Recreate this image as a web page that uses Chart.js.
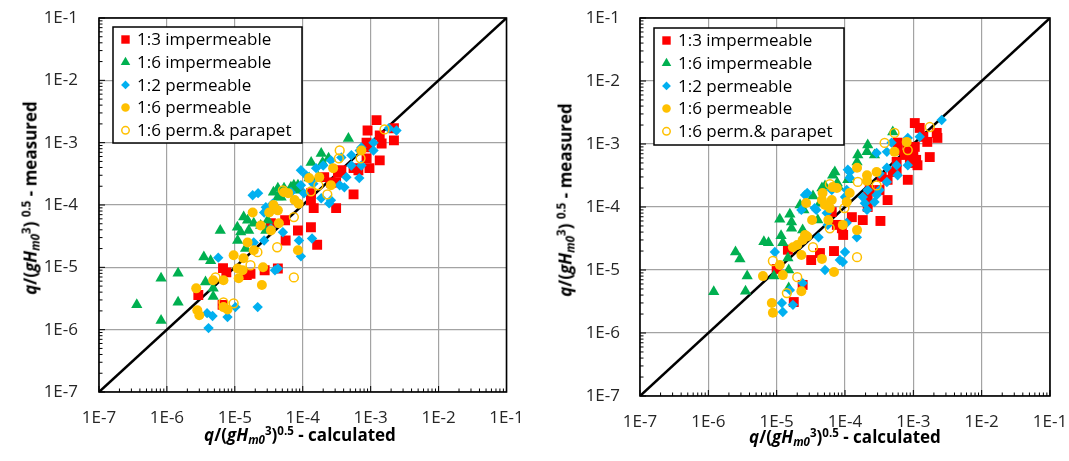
<!DOCTYPE html>
<html>
<head>
<meta charset="utf-8">
<script src="https://cdn.jsdelivr.net/npm/chart.js@4/dist/chart.umd.min.js"></script>
<style>
  html, body { margin: 0; padding: 0; background: #fff; }
  #page { position: relative; width: 1069px; height: 461px; overflow: hidden; font-family: "Open Sans", sans-serif; }
  .panel { position: absolute; top: 0; height: 461px; }
  .axis-title { position: absolute; font-weight: bold; font-size: 17px; line-height: 1; color: #000; white-space: nowrap; }
  .axis-title sup, .axis-title sub { font-size: 0.68em; vertical-align: baseline; position: relative; }
  .axis-title sup { top: -0.55em; }
  .axis-title sub { top: 0.3em; }
  .y-title { transform: translate(-50%, -50%) rotate(-90deg); }
  .x-title { transform: translateX(-50%); }
</style>
</head>
<body>
<div id="page">
  <div class="panel" style="left:0;width:530px"><canvas id="chartLeft"></canvas></div>
  <div class="panel" style="left:535px;width:534px"><canvas id="chartRight"></canvas></div>

  <div class="axis-title y-title" style="left:30px;top:198px"><i>q</i>/(<i>gH</i><sub><i>m0</i></sub><sup>3</sup>) <sup>0.5</sup> - measured</div>
  <div class="axis-title x-title" style="left:300px;top:426px"><i>q</i>/(<i>gH</i><sub><i>m0</i></sub><sup>3</sup>)<sup>0.5</sup> - calculated</div>
  <div class="axis-title y-title" style="left:565px;top:200px"><i>q</i>/(<i>gH</i><sub><i>m0</i></sub><sup>3</sup>) <sup>0.5</sup> - measured</div>
  <div class="axis-title x-title" style="left:845px;top:428px"><i>q</i>/(<i>gH</i><sub><i>m0</i></sub><sup>3</sup>)<sup>0.5</sup> - calculated</div>
</div>

<script>
const decadeValues = [1e-7, 1e-6, 1e-5, 1e-4, 1e-3, 1e-2, 1e-1];
const decadeLabels = ['1E-7', '1E-6', '1E-5', '1E-4', '1E-3', '1E-2', '1E-1'];
const minorSteps = [2, 3, 4, 5, 6, 7, 8, 9];
const parityLine = [1e-7, 1e-1];

const seriesNames = ['1:3 impermeable', '1:6 impermeable', '1:2 permeable', '1:6 permeable', '1:6 perm.& parapet'];

// [calculated, measured] pairs, left panel
const leftImp13 = [
  [2.9e-6, 3.6e-6], [6.6e-6, 2.5e-6], [6.7e-6, 9.7e-6], [7.5e-6, 8.3e-6], [1.5e-5, 7.5e-6],
  [2.75e-5, 9.0e-6], [4.3e-5, 9.6e-6], [8.5e-5, 3.9e-5], [1.32e-4, 4.4e-5], [1.63e-4, 2.3e-5],
  [5.6e-5, 2.7e-5], [5.5e-5, 5.7e-5], [3.4e-5, 5.1e-5], [1.32e-4, 1.19e-4], [1.45e-4, 8.9e-5],
  [3.1e-4, 8.9e-5], [5.6e-4, 1.48e-4], [1.22e-3, 2.3e-3], [9.0e-4, 1.57e-3], [1.36e-3, 1.31e-3],
  [2.2e-3, 1.7e-3], [2.2e-3, 1.09e-3], [1.45e-3, 9.7e-4], [9.2e-4, 8.4e-4], [8.7e-4, 5.6e-4],
  [1.36e-3, 5.2e-4], [9.6e-4, 3.9e-4], [6.6e-4, 3.6e-4], [3.7e-4, 3.6e-4], [3.1e-4, 2.3e-4],
  [3.3e-4, 3.3e-4], [1.32e-4, 1.54e-4], [2.07e-4, 2.8e-4], [2.6e-4, 2.3e-4], [5.6e-4, 3.9e-4],
  [8.7e-5, 1.9e-4], [1.7e-5, 7.9e-6], [8.7e-4, 1.0e-3]
];
const leftImp16 = [
  [3.6e-7, 2.5e-6], [8.2e-7, 1.4e-6], [8.2e-7, 6.7e-6], [1.46e-6, 8.0e-6], [1.46e-6, 2.75e-6],
  [3.5e-6, 1.47e-5], [4.4e-6, 1.27e-5], [3.7e-6, 5.8e-6], [4.8e-6, 3.4e-6], [4.8e-6, 4.6e-6],
  [6.1e-6, 3.9e-5], [1.09e-5, 4.4e-5], [1.22e-5, 3.7e-5], [1.1e-5, 2.7e-5], [1.54e-5, 5.7e-5],
  [1.6e-5, 3.9e-5], [1.44e-5, 2.0e-5], [2.86e-5, 3.9e-5], [3.05e-5, 5.7e-5], [3.6e-5, 8.2e-5],
  [4.0e-5, 9.3e-5], [4.3e-5, 1.34e-4], [3.7e-5, 1.6e-4], [7.4e-5, 2.07e-4], [4.3e-5, 1.85e-4],
  [5.3e-5, 1.85e-4], [8.5e-5, 2.07e-4], [8.7e-5, 1.72e-4], [4.8e-5, 1.33e-4], [1.35e-5, 6.4e-5],
  [1.9e-5, 5.1e-5], [2.4e-5, 4.7e-5], [1.33e-4, 4.8e-4], [1.87e-4, 6.7e-4], [1.96e-4, 4.8e-4],
  [2.4e-4, 5.6e-4], [4.7e-4, 1.17e-3], [1.24e-4, 2.7e-4], [1.7e-4, 2.8e-4], [6.7e-5, 1.92e-4]
];
const leftPerm12 = [
  [3.9e-6, 1.84e-6], [4.7e-6, 1.66e-6], [4.1e-6, 1.06e-6], [7.8e-6, 1.59e-6], [1.02e-5, 2.3e-6],
  [2.17e-5, 2.3e-6], [4.3e-5, 9.6e-6], [3.9e-5, 9.0e-6], [8.8e-5, 2.7e-5], [9.4e-5, 1.5e-5],
  [1.37e-4, 2.9e-5], [5.7e-6, 1.43e-5], [1.9e-5, 2.5e-5], [2.7e-5, 7.6e-5], [5.1e-5, 3.65e-5],
  [1.83e-5, 1.43e-4], [2.2e-5, 1.55e-4], [1.87e-4, 1.28e-4], [2.45e-4, 1.06e-4], [4.1e-4, 1.92e-4],
  [6.8e-4, 2.7e-4], [2.4e-3, 1.57e-3], [1.85e-3, 1.7e-3], [1.1e-3, 1.0e-3], [1.1e-3, 7.5e-4],
  [7.3e-4, 8.4e-4], [5.2e-4, 6.3e-4], [7.3e-4, 4.3e-4], [5.2e-4, 4.3e-4], [4.4e-4, 2.8e-4],
  [3.5e-4, 2.07e-4], [2.6e-4, 1.19e-4], [9.4e-5, 3.6e-4], [1.57e-4, 3.9e-4], [2.7e-5, 2.7e-5],
  [1.43e-4, 2.2e-4], [3.7e-4, 5.8e-4], [2.6e-4, 5.2e-4], [2.0e-4, 4.3e-4], [1.12e-4, 3.0e-4],
  [1.04e-4, 1.54e-4], [6.7e-5, 1.6e-4], [2.86e-5, 9.2e-5], [3.6e-5, 1.05e-4], [3.4e-5, 4.2e-5],
  [6.9e-4, 7.5e-4], [9.4e-5, 2.07e-4]
];
const leftPerm16 = [
  [2.7e-6, 4.6e-6], [2.8e-6, 2.05e-6], [3.0e-6, 1.7e-6], [4.8e-6, 6.2e-6], [6.8e-6, 6.2e-6],
  [6.8e-6, 2.3e-6], [7.8e-6, 2.1e-6], [9.6e-6, 1.56e-5], [1.1e-5, 9.6e-6], [1.14e-5, 6.7e-6],
  [1.34e-5, 1.4e-5], [1.54e-5, 2.5e-5], [1.83e-5, 7.6e-5], [2.4e-5, 4.7e-5], [1.9e-5, 1.88e-5],
  [2.6e-5, 1.0e-5], [2.5e-5, 5.2e-6], [3.4e-5, 3.9e-5], [4.45e-5, 5.1e-5], [3.2e-5, 7.6e-5],
  [3.7e-5, 1.0e-4], [8.5e-5, 1.88e-5], [8.7e-5, 1.05e-4], [6.1e-5, 1.55e-4], [1.24e-4, 2.7e-4],
  [1.75e-4, 2.8e-4], [2.6e-4, 2.07e-4], [7.3e-4, 7.5e-4], [2.8e-4, 3.9e-4], [5.3e-5, 1.6e-4],
  [7.6e-5, 1.2e-4], [4.3e-5, 8.2e-5], [1.3e-5, 9.0e-6]
];
const leftParapet16 = [
  [5.1e-5, 1.72e-4], [7.4e-5, 6.4e-5], [1.32e-4, 1.66e-4], [1.7e-4, 2.07e-4], [2.3e-4, 1.48e-4],
  [4.2e-5, 2.1e-5], [7.4e-5, 6.9e-6], [1.7e-5, 1.08e-5], [2.15e-5, 1.75e-5], [5.2e-6, 6.9e-6],
  [6.8e-6, 2.75e-6], [9.6e-6, 2.65e-6], [3.5e-4, 7.5e-4], [3.4e-4, 5.6e-4], [7.1e-4, 5.6e-4],
  [1.6e-3, 1.63e-3]
];

// [calculated, measured] pairs, right panel
const rightImp13 = [
  [1.0e-5, 1.04e-5], [1.46e-5, 2.1e-5], [2.4e-5, 5.8e-6], [1.78e-5, 3.1e-6], [3.2e-5, 1.44e-5],
  [4.3e-5, 1.86e-5], [6.9e-5, 2.0e-5], [9.0e-5, 4.6e-5], [9.4e-5, 3.6e-5], [1.26e-4, 6.9e-5],
  [1.82e-4, 6.2e-5], [3.3e-4, 6.0e-5], [2.15e-4, 1.44e-4], [4.2e-4, 1.29e-4], [1.24e-3, 1.8e-3],
  [2.2e-3, 1.5e-3], [2.25e-3, 1.25e-3], [1.4e-3, 1.3e-3], [1.05e-3, 2.15e-3], [1.6e-3, 1.08e-3],
  [1.05e-3, 9.0e-4], [1.0e-3, 6.7e-4], [7.5e-4, 6.7e-4], [5.7e-4, 5.2e-4], [5.9e-4, 8.0e-4],
  [1.74e-3, 6.2e-4], [1.15e-3, 4.6e-4], [8.3e-4, 2.7e-4], [5.0e-4, 3.6e-4], [4.2e-4, 2.7e-4],
  [3.45e-4, 3.0e-4], [2.15e-4, 1.0e-4], [3.2e-4, 1.86e-4], [8.9e-4, 5.0e-4], [1.1e-3, 5.6e-4],
  [5.7e-4, 3.9e-4], [2.3e-4, 1.86e-4], [7.6e-5, 5.2e-5], [6.4e-5, 8.3e-5], [5.9e-4, 1.05e-3],
  [8.3e-4, 8.0e-4]
];
const rightImp16 = [
  [1.2e-6, 4.5e-6], [2.5e-6, 1.93e-5], [2.9e-6, 1.5e-5], [3.7e-6, 8.0e-6], [3.5e-6, 4.6e-6],
  [6.5e-6, 2.8e-5], [7.6e-6, 2.7e-5], [9.1e-6, 8.0e-6], [1.11e-5, 6.4e-5], [1.16e-5, 3.5e-5],
  [1.23e-5, 2.7e-5], [1.56e-5, 7.7e-5], [1.65e-5, 4.6e-5], [1.46e-5, 1.55e-5], [1.5e-5, 1.0e-5],
  [1.5e-5, 5.2e-6], [2.2e-5, 1.08e-4], [2.4e-5, 4.3e-5], [2.5e-5, 9.0e-5], [4.0e-5, 6.2e-5],
  [4.3e-5, 1.16e-4], [5.1e-5, 2.15e-4], [6.6e-5, 3.2e-4], [7.7e-5, 2.4e-4], [1.17e-4, 3.0e-4],
  [5.0e-4, 1.55e-3], [2.15e-4, 9.6e-4], [2.1e-4, 7.5e-4], [1.54e-4, 6.7e-4], [1.5e-4, 5.2e-4],
  [2.7e-4, 6.7e-4], [7.1e-5, 3.6e-4], [4.6e-5, 2.0e-4], [3.4e-5, 1.5e-4], [1.1e-4, 2.7e-4],
  [8.0e-5, 2.1e-4], [1.65e-5, 5.8e-5]
];
const rightPerm12 = [
  [9.4e-6, 1.93e-5], [1.19e-5, 3.0e-6], [1.23e-5, 2.15e-6], [1.73e-5, 2.8e-6], [1.56e-5, 4.8e-6],
  [2.4e-5, 6.2e-6], [5.1e-5, 1.0e-5], [9.3e-5, 1.34e-5], [1.0e-4, 1.93e-5], [4.1e-5, 3.3e-5],
  [2.8e-5, 1.67e-4], [3.8e-5, 9.0e-5], [5.4e-5, 8.0e-5], [1.06e-4, 5.6e-5], [1.49e-4, 3.3e-5],
  [2.1e-4, 9.0e-5], [2.7e-4, 1.2e-4], [6.4e-5, 1.86e-4], [1.0e-4, 1.44e-4], [2.6e-3, 2.4e-3],
  [1.24e-3, 1.3e-3], [8.3e-4, 4.6e-4], [5.7e-4, 4.6e-4], [4.1e-4, 2.5e-4], [3.2e-4, 1.86e-4],
  [2.9e-4, 1.55e-4], [2.15e-4, 1.86e-4], [1.82e-4, 1.44e-4], [1.06e-4, 1.86e-4], [1.17e-4, 3.6e-4],
  [2.9e-4, 7.2e-4], [2.6e-5, 1.55e-4], [5.6e-5, 5.2e-5], [8.4e-5, 1.44e-5], [8.3e-4, 1.25e-3],
  [4.8e-4, 1.05e-3], [4.1e-4, 7.5e-4], [5.9e-4, 3.2e-4], [4.1e-4, 4.2e-4], [3.2e-4, 3.4e-4],
  [1.1e-4, 3.9e-4], [1.17e-4, 2.9e-4], [1.95e-4, 1.15e-4], [2.3e-5, 9.0e-5], [3.6e-5, 9.6e-5]
];
const rightPerm16 = [
  [6.3e-6, 8.0e-6], [8.5e-6, 3.0e-6], [8.8e-6, 2.1e-6], [1.11e-5, 1.2e-5], [1.23e-5, 8.3e-6],
  [1.73e-5, 2.3e-5], [2.0e-5, 2.5e-5], [2.3e-5, 1.73e-5], [2.4e-5, 3.0e-5], [2.8e-5, 3.4e-5],
  [2.3e-5, 4.6e-6], [4.6e-5, 1.5e-5], [6.9e-5, 9.3e-6], [2.7e-5, 1.16e-4], [3.3e-5, 6.2e-5],
  [5.7e-5, 6.2e-5], [6.0e-5, 9.6e-5], [4.6e-5, 1.29e-4], [6.6e-5, 2.07e-4], [1.17e-4, 1.67e-4],
  [1.5e-4, 4.3e-5], [1.06e-4, 1.2e-4], [2.1e-4, 3.2e-4], [8.0e-4, 1.08e-3], [5.3e-4, 7.5e-4],
  [2.9e-4, 3.6e-4], [1.5e-4, 4.2e-4], [2.1e-4, 2.6e-4], [7.6e-5, 2.0e-4], [6.4e-5, 1.29e-4],
  [4.7e-5, 1.67e-4], [5.1e-5, 1.08e-4], [9.3e-5, 5.2e-5], [2.6e-5, 3.6e-5]
];
const rightParapet16 = [
  [8.8e-6, 1.39e-5], [3.4e-5, 2.3e-5], [2.0e-5, 7.7e-6], [1.41e-5, 4.3e-6], [1.5e-4, 1.6e-5],
  [6.0e-5, 2.3e-4], [1.54e-4, 2.5e-4], [6.0e-5, 4.6e-5], [3.8e-4, 1.04e-3], [5.3e-4, 1.5e-3],
  [8.3e-4, 8.0e-4], [1.74e-3, 1.86e-3], [2.9e-4, 2.2e-4], [9.8e-5, 9.6e-5]
];

Chart.defaults.font.family = '"Open Sans", sans-serif';
Chart.defaults.font.size = 17;
Chart.defaults.color = '#262626';

const seriesStyles = [
  { pointStyle: 'rect', radius: 7, fill: '#ff0000', stroke: '#ff0000', borderWidth: 0 },
  { pointStyle: 'triangle', radius: 6.5, fill: '#00b050', stroke: '#00b050', borderWidth: 0 },
  { pointStyle: 'rectRot', radius: 5.2, fill: '#00b0f0', stroke: '#00b0f0', borderWidth: 0 },
  { pointStyle: 'circle', radius: 5, fill: '#ffc000', stroke: '#ffc000', borderWidth: 0 },
  { pointStyle: 'circle', radius: 4.4, fill: 'rgba(255,255,255,0)', stroke: '#ffc000', borderWidth: 1.5 },
];

// inward minor/major ticks plus the black frame round the plot area
const frameTicks = {
  id: 'frameTicks',
  beforeDatasetsDraw(chart) {
    const { ctx, chartArea: a, scales: { x, y } } = chart;
    ctx.save();
    ctx.strokeStyle = '#000';
    ctx.lineWidth = 1;
    ctx.beginPath();
    decadeValues.forEach((d, i) => {
      const px = x.getPixelForValue(d);
      const py = y.getPixelForValue(d);
      ctx.moveTo(px, a.bottom);
      ctx.lineTo(px, a.bottom - 6);
      ctx.moveTo(a.left, py);
      ctx.lineTo(a.left + 6, py);
      if (i === decadeValues.length - 1) return;
      minorSteps.forEach((m) => {
        const mx = x.getPixelForValue(d * m);
        const my = y.getPixelForValue(d * m);
        ctx.moveTo(mx, a.bottom);
        ctx.lineTo(mx, a.bottom - 3.5);
        ctx.moveTo(a.left, my);
        ctx.lineTo(a.left + 3.5, my);
      });
    });
    ctx.stroke();
    ctx.lineWidth = 1.6;
    ctx.strokeRect(a.left, a.top, a.right - a.left, a.bottom - a.top);
    ctx.restore();
  },
};

const boxLegend = {
  id: 'boxLegend',
  afterDatasetsDraw(chart, args, opts) {
    const { ctx, chartArea: a } = chart;
    const left = a.left + opts.offsetX;
    const top = a.top + opts.offsetY;
    ctx.save();
    ctx.fillStyle = '#fff';
    ctx.fillRect(left, top, opts.width, opts.height);
    ctx.strokeStyle = '#000';
    ctx.lineWidth = 1.5;
    ctx.strokeRect(left, top, opts.width, opts.height);
    ctx.font = '17px "Open Sans", sans-serif';
    ctx.textBaseline = 'middle';
    seriesStyles.forEach((s, i) => {
      const cy = top + 12.5 + i * 22.7;
      ctx.fillStyle = s.fill;
      ctx.strokeStyle = s.stroke;
      ctx.lineWidth = s.borderWidth;
      Chart.helpers.drawPoint(ctx, {
        pointStyle: s.pointStyle,
        radius: s.radius * 0.85,
        rotation: 0,
        borderWidth: s.borderWidth,
      }, left + 12.5, cy);
      ctx.fillStyle = '#000';
      ctx.fillText(seriesNames[i], left + 24, cy + 1);
    });
    ctx.restore();
  },
};

function logAxis(frame, isX) {
  return {
    type: 'logarithmic',
    min: decadeValues[0],
    max: decadeValues[decadeValues.length - 1],
    afterBuildTicks(scale) {
      scale.ticks = decadeValues.map((v) => ({ value: v }));
    },
    afterFit(scale) {
      if (isX) scale.height = frame.xAxisHeight;
      else scale.width = frame.yAxisWidth;
      // the end labels may overhang; keep the plot box where the layout puts it
      scale.paddingTop = 0;
      scale.paddingBottom = 0;
      scale.paddingLeft = 0;
      scale.paddingRight = 0;
    },
    grid: { color: '#a3a3a3', lineWidth: 1.2, drawTicks: false },
    border: { display: false },
    ticks: {
      autoSkip: false,
      maxRotation: 0,
      padding: isX ? frame.xLabelPad : frame.yLabelPad,
      callback: (v, i) => decadeLabels[i],
    },
  };
}

function makePanel(canvasId, groups, frame) {
  const datasets = groups.map((points, i) => {
    const s = seriesStyles[i];
    return {
      label: seriesNames[i],
      data: points.map(([x, y]) => ({ x, y })),
      pointStyle: s.pointStyle,
      pointRadius: s.radius,
      pointBackgroundColor: s.fill,
      pointBorderColor: s.stroke,
      pointBorderWidth: s.borderWidth,
      order: groups.length - i,
    };
  });

  // 1:1 reference line, drawn underneath the markers
  datasets.push({
    label: 'parity',
    data: parityLine.map((v) => ({ x: v, y: v })),
    showLine: true,
    borderColor: '#000',
    borderWidth: 2.5,
    pointRadius: 0,
    order: 10,
  });

  return new Chart(document.getElementById(canvasId), {
    type: 'scatter',
    data: { datasets },
    options: {
      responsive: true,
      maintainAspectRatio: false,
      animation: false,
      events: [],
      layout: {
        padding: { top: frame.top, right: frame.right, bottom: 0, left: 0 },
      },
      plugins: {
        legend: { display: false },
        tooltip: { enabled: false },
        boxLegend: frame.legend,
      },
      scales: {
        x: logAxis(frame, true),
        y: logAxis(frame, false),
      },
    },
    plugins: [frameTicks, boxLegend],
  });
}

makePanel('chartLeft', [leftImp13, leftImp16, leftPerm12, leftPerm16, leftParapet16], {
  top: 18, right: 23.5, yAxisWidth: 99, xAxisHeight: 69, yLabelPad: 21, xLabelPad: 16,
  legend: { offsetX: 14, offsetY: 9, width: 189, height: 116 },
});

makePanel('chartRight', [rightImp13, rightImp16, rightPerm12, rightPerm16, rightParapet16], {
  top: 18, right: 19, yAxisWidth: 105, xAxisHeight: 65, yLabelPad: 20, xLabelPad: 16,
  legend: { offsetX: 14, offsetY: 10, width: 190, height: 117 },
});
</script>
</body>
</html>
